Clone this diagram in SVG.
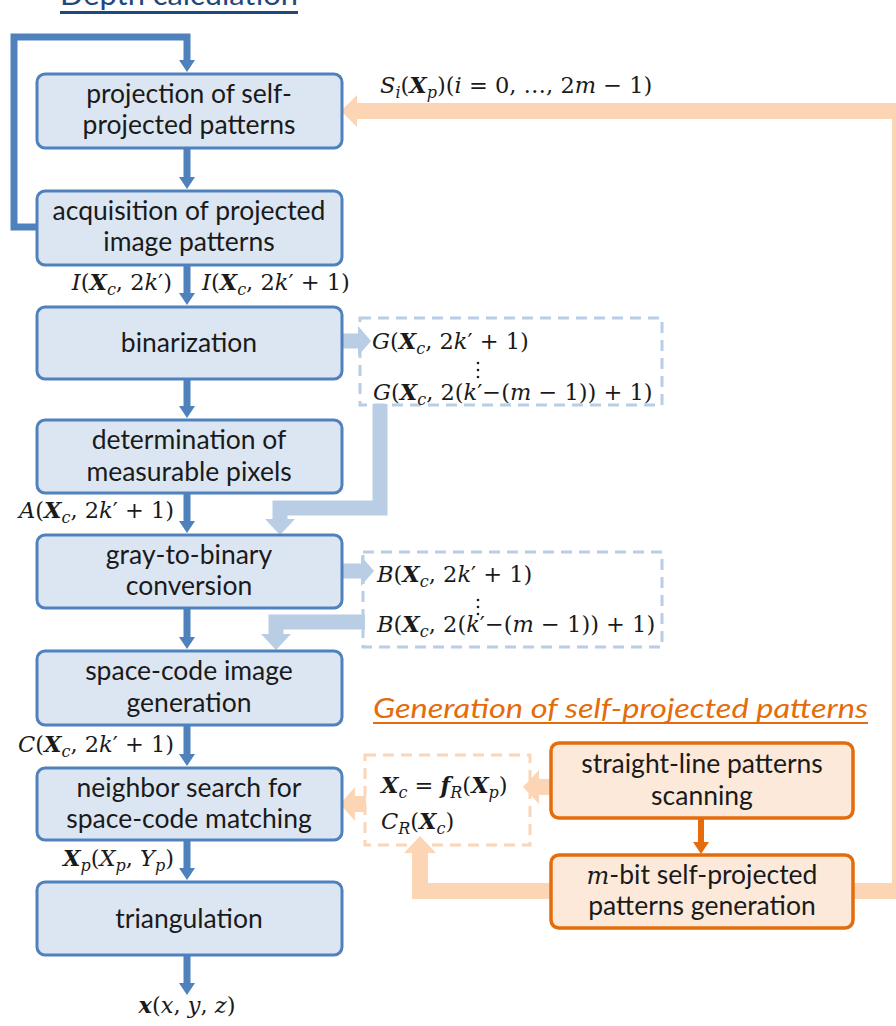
<svg xmlns="http://www.w3.org/2000/svg" width="896" height="1026" viewBox="0 0 896 1026">
<style>
.box{fill:#DCE6F2;stroke:#4F81BD;stroke-width:3}
.obox{fill:#FDE9D9;stroke:#E46C0A;stroke-width:3.5}
.t{font-family:Lato,"Liberation Sans",sans-serif;font-size:26.5px;fill:#1a1a1a;text-anchor:middle}
.m{font-family:"DejaVu Serif",serif;font-size:22.5px;fill:#1a1a1a}
.i{font-style:italic}
.bi{font-style:italic;font-weight:bold}
.s{font-size:16px}
.bl{fill:none;stroke:#4F81BD;stroke-width:7}
.lb{fill:none;stroke:#B9CDE5;stroke-width:15}
.lbh{fill:#B9CDE5}
.lo{fill:none;stroke:#FCD5B5;stroke-width:16}
.loh{fill:#FCD5B5}
</style>
<defs>
<marker id="ab" markerUnits="userSpaceOnUse" markerWidth="12" markerHeight="16" refX="1" refY="8" orient="auto"><path d="M0,0 L12,8 L0,16 z" fill="#4F81BD"/></marker>
<marker id="ao" markerUnits="userSpaceOnUse" markerWidth="12" markerHeight="16" refX="1" refY="8" orient="auto"><path d="M0,0 L12,8 L0,16 z" fill="#E46C0A"/></marker>
</defs>

<g id="title">
<text x="60" y="5" font-family="Lato,'Liberation Sans',sans-serif" font-size="28" fill="#1F497D" textLength="238" lengthAdjust="spacingAndGlyphs">Depth calculation</text>
<rect x="60" y="11" width="238" height="3" fill="#1F497D"/>
</g>

<g id="connectors">
<path class="bl" d="M37,227 H14 V37 H187 V61" marker-end="url(#ab)"/>
<path class="bl" d="M187,149 V178" marker-end="url(#ab)"/>
<path class="bl" d="M187,266 V294" marker-end="url(#ab)"/>
<path class="bl" d="M187,380 V407" marker-end="url(#ab)"/>
<path class="bl" d="M187,494 V522" marker-end="url(#ab)"/>
<path class="bl" d="M187,609 V638" marker-end="url(#ab)"/>
<path class="bl" d="M187,726 V755" marker-end="url(#ab)"/>
<path class="bl" d="M187,841 V869" marker-end="url(#ab)"/>
<path class="bl" d="M187,956 V984" marker-end="url(#ab)"/>
<path d="M701,819 V843" fill="none" stroke="#E46C0A" stroke-width="6" marker-end="url(#ao)"/>

<path class="lb" d="M343,341 H359"/>
<polygon class="lbh" points="358,326 371,341 358,356"/>
<path class="lb" d="M380,404 V508 H280 V520" stroke-width="14" stroke-linejoin="miter"/>
<polygon class="lbh" points="265,519 295,519 280,535"/>
<path class="lb" d="M343,571 H362"/>
<polygon class="lbh" points="361,556 374,571 361,586"/>
<path class="lb" d="M365,622 H276 V635" stroke-width="14"/>
<polygon class="lbh" points="261,634 291,634 276,650"/>

<path class="lo" d="M550,787 H538"/>
<polygon class="loh" points="539,770 523,787 539,804"/>
<path class="lo" d="M366,804 H354"/>
<polygon class="loh" points="355,787 340,804 355,821"/>
<path class="lo" d="M550,891 H420 V852"/>
<polygon class="loh" points="404,853 420,836 436,853"/>
<path class="lo" d="M853,891 H900 V111 H356"/>
<polygon class="loh" points="357,95 341,111 357,127"/>
</g>

<g id="n1"><rect class="box" x="37" y="74" width="305" height="74" rx="8"/>
<text class="t" x="189" y="103">projection of self-</text><text class="t" x="189" y="134">projected patterns</text></g>
<g id="n2"><rect class="box" x="37" y="191" width="305" height="74" rx="8"/>
<text class="t" x="189" y="220">acquisition of projected</text><text class="t" x="189" y="251">image patterns</text></g>
<g id="n3"><rect class="box" x="37" y="307" width="305" height="72" rx="8"/>
<text class="t" x="189" y="352">binarization</text></g>
<g id="n4"><rect class="box" x="37" y="420" width="305" height="73" rx="8"/>
<text class="t" x="189" y="449">determination of</text><text class="t" x="189" y="481">measurable pixels</text></g>
<g id="n5"><rect class="box" x="37" y="535" width="305" height="73" rx="8"/>
<text class="t" x="189" y="564">gray-to-binary</text><text class="t" x="189" y="595">conversion</text></g>
<g id="n6"><rect class="box" x="37" y="651" width="305" height="74" rx="8"/>
<text class="t" x="189" y="680">space-code image</text><text class="t" x="189" y="712">generation</text></g>
<g id="n7"><rect class="box" x="37" y="768" width="305" height="72" rx="8"/>
<text class="t" x="189" y="797">neighbor search for</text><text class="t" x="189" y="828">space-code matching</text></g>
<g id="n8"><rect class="box" x="37" y="882" width="305" height="73" rx="8"/>
<text class="t" x="189" y="928">triangulation</text></g>

<g id="gbox"><rect x="360" y="318" width="302" height="87" fill="none" stroke="#B9CDE5" stroke-width="3" stroke-dasharray="11 7"/>
<text class="m" x="372" y="349"><tspan class="i">G</tspan>(<tspan class="bi">X</tspan><tspan class="s i" dy="5">c</tspan><tspan dy="-5">, 2</tspan><tspan class="i">k</tspan>′ + 1)</text>
<circle cx="478" cy="363" r="1.3" fill="#1a1a1a"/><circle cx="478" cy="370" r="1.3" fill="#1a1a1a"/><circle cx="478" cy="377" r="1.3" fill="#1a1a1a"/>
<text class="m" x="373" y="400"><tspan class="i">G</tspan>(<tspan class="bi">X</tspan><tspan class="s i" dy="5">c</tspan><tspan dy="-5">, 2(</tspan><tspan class="i">k</tspan>′−(<tspan class="i">m</tspan> − 1)) + 1)</text></g>

<g id="bbox"><rect x="363" y="552" width="299" height="95" fill="none" stroke="#B9CDE5" stroke-width="3" stroke-dasharray="11 7"/>
<text class="m" x="377" y="582"><tspan class="i">B</tspan>(<tspan class="bi">X</tspan><tspan class="s i" dy="5">c</tspan><tspan dy="-5">, 2</tspan><tspan class="i">k</tspan>′ + 1)</text>
<circle cx="478" cy="600" r="1.3" fill="#1a1a1a"/><circle cx="478" cy="607" r="1.3" fill="#1a1a1a"/><circle cx="478" cy="614" r="1.3" fill="#1a1a1a"/>
<text class="m" x="377" y="632"><tspan class="i">B</tspan>(<tspan class="bi">X</tspan><tspan class="s i" dy="5">c</tspan><tspan dy="-5">, 2(</tspan><tspan class="i">k</tspan>′−(<tspan class="i">m</tspan> − 1)) + 1)</text></g>

<g id="labels">
<text class="m" x="380" y="93"><tspan class="i">S</tspan><tspan class="s i" dy="5">i</tspan><tspan dy="-5">(</tspan><tspan class="bi">X</tspan><tspan class="s i" dy="5">p</tspan><tspan dy="-5">)(</tspan><tspan class="i">i</tspan> = 0, …, 2<tspan class="i">m</tspan> − 1)</text>
<text class="m" x="172" y="290" text-anchor="end"><tspan class="i">I</tspan>(<tspan class="bi">X</tspan><tspan class="s i" dy="5">c</tspan><tspan dy="-5">, 2</tspan><tspan class="i">k</tspan>′)</text>
<text class="m" x="202" y="290"><tspan class="i">I</tspan>(<tspan class="bi">X</tspan><tspan class="s i" dy="5">c</tspan><tspan dy="-5">, 2</tspan><tspan class="i">k</tspan>′ + 1)</text>
<text class="m" x="174" y="518" text-anchor="end"><tspan class="i">A</tspan>(<tspan class="bi">X</tspan><tspan class="s i" dy="5">c</tspan><tspan dy="-5">, 2</tspan><tspan class="i">k</tspan>′ + 1)</text>
<text class="m" x="174" y="752" text-anchor="end"><tspan class="i">C</tspan>(<tspan class="bi">X</tspan><tspan class="s i" dy="5">c</tspan><tspan dy="-5">, 2</tspan><tspan class="i">k</tspan>′ + 1)</text>
<text class="m" x="174" y="866" text-anchor="end"><tspan class="bi">X</tspan><tspan class="s i" dy="5">p</tspan><tspan dy="-5">(</tspan><tspan class="i">X</tspan><tspan class="s i" dy="5">p</tspan><tspan dy="-5">, </tspan><tspan class="i">Y</tspan><tspan class="s i" dy="5">p</tspan><tspan dy="-5">)</tspan></text>
<text class="m" x="187" y="1013" text-anchor="middle"><tspan class="bi">x</tspan>(<tspan class="i">x</tspan>, <tspan class="i">y</tspan>, <tspan class="i">z</tspan>)</text>
</g>

<g id="gen-title">
<text x="373" y="718" font-family="Lato,'Liberation Sans',sans-serif" font-size="27" font-style="italic" fill="#E46C0A" textLength="495" lengthAdjust="spacingAndGlyphs">Generation of self-projected patterns</text>
<rect x="373" y="722" width="495" height="2" fill="#E46C0A"/>
</g>

<g id="rbox"><rect x="365" y="755" width="165" height="90" fill="none" stroke="#FBD5B5" stroke-width="3" stroke-dasharray="11 7"/>
<text class="m" x="381" y="793"><tspan class="bi">X</tspan><tspan class="s i" dy="5">c</tspan><tspan dy="-5"> = </tspan><tspan class="bi">f</tspan><tspan class="s i" dy="5">R</tspan><tspan dy="-5">(</tspan><tspan class="bi">X</tspan><tspan class="s i" dy="5">p</tspan><tspan dy="-5">)</tspan></text>
<text class="m" x="381" y="829"><tspan class="i">C</tspan><tspan class="s i" dy="5">R</tspan><tspan dy="-5">(</tspan><tspan class="bi">X</tspan><tspan class="s i" dy="5">c</tspan><tspan dy="-5">)</tspan></text></g>

<g id="oA"><rect class="obox" x="551" y="743" width="302" height="75" rx="8"/>
<text class="t" x="702" y="773">straight-line patterns</text><text class="t" x="702" y="805">scanning</text></g>
<g id="oB"><rect class="obox" x="551" y="855" width="302" height="73" rx="8"/>
<text class="t" x="702" y="884"><tspan font-family="'DejaVu Serif',serif" font-style="italic" font-size="24">m</tspan>-bit self-projected</text><text class="t" x="702" y="915">patterns generation</text></g>
</svg>
